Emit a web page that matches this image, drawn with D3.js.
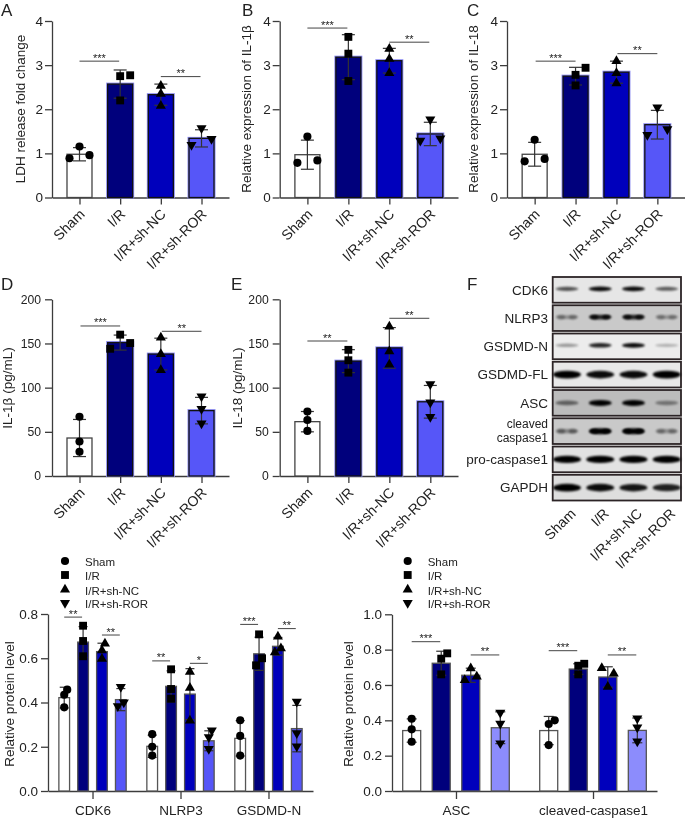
<!DOCTYPE html>
<html><head><meta charset="utf-8">
<script src="https://cdn.jsdelivr.net/npm/d3@7"></script>
<style>
html,body{margin:0;padding:0;background:#fff}
svg{display:block;filter:blur(0.3px)}
text{font-family:"Liberation Sans",Arial,sans-serif;fill:#222}
</style></head><body>
<script>
const groups = ["Sham","I/R","I/R+sh-NC","I/R+sh-ROR"];

// Panel A
const aMeans = [0.98,2.57,2.33,1.34];
const aErrs  = [0.15,0.32,0.24,0.195];
const aPoints = [[0.89,1.155,0.96],[2.2,2.75,2.77],[2.08,2.35,2.53],[1.19,1.57,1.33]];
const aSlots  = [[-1,0,1],[0,0,1],[0,0,0],[-1,0,1]];
const aSig = [[0,1,3.09,"***"],[2,3,2.74,"**"]];
// Panel B
const bMeans = [0.97,3.18,3.10,1.44];
const bErrs  = [0.33,0.51,0.28,0.265];
const bPoints = [[0.785,1.38,0.84],[2.64,3.26,3.64],[2.82,3.14,3.37],[1.29,1.77,1.34]];
const bSlots  = [[-1,0,1],[0,0,0],[0,0,0],[-1,0,1]];
const bSig = [[0,1,3.84,"***"],[2,3,3.52,"**"]];
// Panel C
const cMeans = [0.98,2.75,2.84,1.65];
const cErrs  = [0.27,0.2,0.25,0.325];
const cPoints = [[0.82,1.31,0.875],[2.54,2.78,2.94],[2.59,2.82,3.09],[1.42,2.04,1.55]];
const cSlots  = [[-1,0,1],[0,0,1],[0,0,0],[-1,0,1]];
const cSig = [[0,1,3.09,"***"],[2,3,3.26,"**"]];
// Panel D
const dMeans = [43,151,138,74];
const dErrs  = [21,8.5,18,15];
const dPoints = [[27.5,39,67],[144,160,150.5],[120,138,156.6],[59.6,76,90]];
const dSlots  = [[0,0,0],[-1,0,1],[0,0,0],[0,0,0]];
const dSig = [[0,1,169.8,"***"],[2,3,163.8,"**"]];
// Panel E
const eMeans = [61.5,130,145,84];
const eErrs  = [11.5,13,23,18.5];
const ePoints = [[51,63.4,73],[117,131,142.8],[126,141,169],[67,83.4,104]];
const eSlots  = [[0,0,0],[0,0,0],[0,0,0],[0,0,0]];
const eSig = [[0,1,152.8,"**"],[2,3,178.5,"**"]];

// Panel F (western blot)
const blotRows = ["CDK6","NLRP3","GSDMD-N","GSDMD-FL","ASC","cleaved caspase1","pro-caspase1","GAPDH"];
const blotShade = ["#e6e6e6","#c9c9c9","#ececec","#e8e8e8","#bcbcbc","#c9c9c9","#e2e2e2","#dedede"];
const blotIntensity = [[.65,.95,.95,.6],[.3,.8,.8,.28],[.35,.85,.95,.25],[1,.95,.95,1],[.5,1,1,.4],[.35,1,1,.3],[1,1,1,1],[1,.95,.9,.85]];
const blotThickness = [4,4.5,4,6.5,5,5,6,6.5];
const blotDoublet = [0,1,0,0,0,1,0,0];

// Panel G
const gCats = ["CDK6","NLRP3","GSDMD-N"];
const gMeans = [[.422,.673,.63,.413],[.202,.473,.438,.227],[.238,.62,.654,.282]];
const gErrs  = [[.047,.07,.038,.05],[.05,.07,.115,.045],[.08,.075,.04,.105]];
const gPoints = [
 [[.378,.435,.458],[.609,.678,.747],[.597,.636,.666],[.383,.47,.40]],
 [[.16,.2,.257],[.417,.461,.55],[.318,.466,.539],[.19,.243,.274]],
 [[.16,.249,.32],[.568,.708,.6],[.627,.698,.645],[.202,.261,.404]]];
const gSlots = [
 [[0,0,1],[0,0,0],[0,0,1],[-1,0,1]],
 [[0,0,0],[0,0,0],[0,0,0],[0,0,1]],
 [[0,0,0],[-1,0,1],[-1,0,1],[0,0,0]]];
const gSig = [[0,0,1,.786,"**"],[0,2,3,.705,"**"],[1,0,1,.588,"**"],[1,2,3,.577,"*"],[2,0,1,.753,"***"],[2,2,3,.734,"**"]];

// Panel H
const hCats = ["ASC","cleaved-caspase1"];
const hMeans = [[.342,.723,.655,.358],[.342,.69,.645,.343]];
const hErrs  = [[.066,.068,.04,.09],[.08,.03,.058,.07]];
const hPoints = [
 [[.279,.349,.409],[.66,.749,.779],[.628,.694,.647],[.27,.381,.443]],
 [[.26,.379,.4],[.66,.709,.72],[.696,.589,.664],[.281,.36,.411]]];
const hSlots = [
 [[0,0,0],[0,0,1],[-1,0,1],[0,0,0]],
 [[0,0,1],[0,0,1],[-1,0,1],[0,0,0]]];
const hSig = [[0,0,1,.845,"***"],[0,2,3,.77,"**"],[1,0,1,.794,"***"],[1,2,3,.77,"**"]];

const yTicks4 = [0,1,2,3,4], yTicks200 = [0,50,100,150,200];
const yTicks08 = [0,.2,.4,.6,.8], yTicks10 = [0,.2,.4,.6,.8,1];

const fills  = ["#ffffff","#00007c","#0000bc","#5656f8"];
const fillsH = ["#ffffff","#00007c","#0000bc","#8c8cfc"];
const symbols = [
  {t:d3.symbolCircle,s:52,r:0},{t:d3.symbolSquare,s:62,r:0},
  {t:d3.symbolTriangle,s:44,r:0},{t:d3.symbolTriangle,s:44,r:180}];
const AXIS = "#3c3c3c";

const svg = d3.select("body").append("svg").attr("width",685).attr("height",818);
const defs = svg.append("defs");
defs.append("filter").attr("id","bandBlur").attr("x","-30%").attr("y","-150%").attr("width","160%").attr("height","400%")
  .append("feGaussianBlur").attr("stdDeviation",1.25);

function marker(g,i,x,y){
  g.append("path").attr("d",d3.symbol().type(symbols[i].t).size(symbols[i].s)())
   .attr("transform",`translate(${x},${y}) rotate(${symbols[i].r})`).attr("fill","#000");
}
function yAxis(g,y,ticks,x,fmt,size,pad){
  const a = g.append("g").attr("transform",`translate(${x},0)`)
    .call(d3.axisLeft(y).tickValues(ticks).tickSize(7).tickPadding(pad).tickFormat(fmt).tickSizeOuter(0));
  a.selectAll("path,line").attr("stroke",AXIS).attr("stroke-width",1.3);
  a.selectAll("text").attr("font-size",size).attr("fill","#222");
}
function yLabel(g,t,x,yc){
  g.append("text").attr("transform",`translate(${x},${yc}) rotate(-90)`).attr("text-anchor","middle")
   .attr("dy",".35em").attr("font-size",13.5).text(t);
}
function letter(t,x,y){ svg.append("text").attr("x",x).attr("y",y).attr("font-size",17).text(t); }
function sigMark(g,x0,x1,yy,s){
  g.append("line").attr("x1",x0).attr("x2",x1).attr("y1",yy).attr("y2",yy).attr("stroke","#444").attr("stroke-width",1);
  g.append("text").attr("x",(x0+x1)/2).attr("y",yy+0.5).attr("text-anchor","middle").attr("font-size",11).text(s);
}
function bar(g,x,w,y,y0,v,fill,stroke,halo){
  if(halo && fill!=="#ffffff") g.append("rect").attr("x",x-w/2-.5).attr("y",y(v)-.5).attr("width",w+1).attr("height",y0-y(v)+.5)
     .attr("fill","none").attr("stroke","#8a8af0").attr("stroke-width",2);
  g.append("rect").attr("x",x-w/2).attr("y",y(v)).attr("width",w).attr("height",y0-y(v))
     .attr("fill",fill).attr("stroke",stroke).attr("stroke-width",1.3);
}
function errBar(g,x,y,v,e,cap){
  g.append("line").attr("x1",x).attr("x2",x).attr("y1",y(v-e)).attr("y2",y(v+e)).attr("stroke","#333").attr("stroke-width",1.2);
  [v-e,v+e].forEach(u=>g.append("line").attr("x1",x-cap).attr("x2",x+cap).attr("y1",y(u)).attr("y2",y(u)).attr("stroke","#333").attr("stroke-width",1.2));
}

function singlePanel(cfg){
  const g = svg.append("g");
  const y = d3.scaleLinear().domain([0,cfg.max]).range([cfg.y0,cfg.yTop]);
  const x = d3.scalePoint().domain(groups).range([cfg.xL,cfg.xR]).padding(.676);
  yAxis(g,y,cfg.ticks,cfg.xL,d3.format("d"),cfg.tickFont,cfg.tickPad);
  const xa = g.append("g").attr("transform",`translate(0,${cfg.y0})`)
    .call(d3.axisBottom(x).tickSize(7).tickSizeOuter(0));
  xa.selectAll("path,line").attr("stroke",AXIS).attr("stroke-width",1.3);
  xa.selectAll("text").attr("font-size",14.2).attr("fill","#222").attr("text-anchor","end")
    .attr("x",0).attr("y",0).attr("dy",".35em").attr("transform","translate(2,14) rotate(-45)");
  groups.forEach((c,i)=>{
    const cx = x(c);
    bar(g,cx,25,y,cfg.y0,cfg.means[i],fills[i],i===0?"#444":"#111",true);
    errBar(g,cx,y,cfg.means[i],cfg.errs[i],6.5);
    cfg.points[i].forEach((p,j)=>marker(g,i,cx+cfg.slots[i][j]*10,y(p)));
  });
  cfg.sig.forEach(s=>sigMark(g,x(groups[s[0]])+cfg.sigDx,x(groups[s[1]])+cfg.sigDx-1,y(s[2]),s[3]));
  yLabel(g,cfg.label,cfg.lx,cfg.ly);
}
singlePanel({max:4,y0:197.5,yTop:21,xL:52,xR:229,ticks:yTicks4,tickFont:13.5,tickPad:2,means:aMeans,errs:aErrs,points:aPoints,slots:aSlots,sig:aSig,sigDx:0,label:"LDH release fold change",lx:20,ly:109});
singlePanel({max:4,y0:197.5,yTop:21,xL:279.7,xR:458,ticks:yTicks4,tickFont:13.5,tickPad:2,means:bMeans,errs:bErrs,points:bPoints,slots:bSlots,sig:bSig,sigDx:0,label:"Relative expression of IL-1β",lx:246.5,ly:109});
singlePanel({max:4,y0:197.5,yTop:21,xL:507,xR:685,ticks:yTicks4,tickFont:13.5,tickPad:2,means:cMeans,errs:cErrs,points:cPoints,slots:cSlots,sig:cSig,sigDx:1,label:"Relative expression of IL-18",lx:473,ly:109});
singlePanel({max:200,y0:476,yTop:299.3,xL:52,xR:229,ticks:yTicks200,tickFont:12.2,tickPad:4,means:dMeans,errs:dErrs,points:dPoints,slots:dSlots,sig:dSig,sigDx:1,label:"IL-1β (pg/mL)",lx:7.5,ly:388});
singlePanel({max:200,y0:476,yTop:299.3,xL:279.7,xR:458,ticks:yTicks200,tickFont:12.2,tickPad:4,means:eMeans,errs:eErrs,points:ePoints,slots:eSlots,sig:eSig,sigDx:0,label:"IL-18 (pg/mL)",lx:237,ly:388});

function groupedPanel(cfg){
  const g = svg.append("g");
  const y = d3.scaleLinear().domain([0,cfg.max]).range([cfg.y0,cfg.yTop]);
  const x = d3.scalePoint().domain(cfg.cats).range([cfg.xL,cfg.xR]).padding(cfg.pad);
  const inner = d3.scalePoint().domain(groups).range([-cfg.spread,cfg.spread]);
  yAxis(g,y,cfg.ticks,cfg.xL,d3.format(".1f"),13.5,3);
  const xa = g.append("g").attr("transform",`translate(0,${cfg.y0})`)
    .call(d3.axisBottom(x).tickSize(8).tickPadding(6.5).tickSizeOuter(0));
  xa.selectAll("path,line").attr("stroke",AXIS).attr("stroke-width",1.3);
  xa.selectAll("text").attr("font-size",13.5).attr("fill","#222");
  cfg.cats.forEach((c,k)=>{
    groups.forEach((gr,i)=>{
      const cx = x(c)+inner(gr);
      bar(g,cx,cfg.w,y,cfg.y0,cfg.means[k][i],cfg.fills[i],"#555",false);
      errBar(g,cx,y,cfg.means[k][i],cfg.errs[k][i],cfg.cap);
      cfg.points[k][i].forEach((p,j)=>marker(g,i,cx+cfg.slots[k][i][j]*cfg.slot,y(p)));
    });
  });
  cfg.sig.forEach(s=>{
    const c = cfg.cats[s[0]];
    sigMark(g,x(c)+inner(groups[s[1]]),x(c)+inner(groups[s[2]])-1,y(s[3]),s[4]);
  });
  yLabel(g,"Relative protein level",cfg.lx,704);
  groups.forEach((gr,i)=>{
    const ly = [561,575,589.5,603][i];
    marker(g,i,cfg.legX,ly);
    g.append("text").attr("x",cfg.legX+20).attr("y",ly+1).attr("dy",".35em").attr("font-size",11.5).text(gr);
  });
}
groupedPanel({max:.8,y0:791,yTop:614,xL:48,xR:313,pad:.506,spread:28.3,w:10.7,cap:4.5,slot:3,cats:gCats,ticks:yTicks08,means:gMeans,errs:gErrs,points:gPoints,slots:gSlots,sig:gSig,fills:fills,lx:9,legX:65});
groupedPanel({max:1,y0:791,yTop:614.3,xL:392,xR:657,pad:.467,spread:44.3,w:18,cap:5,slot:6,cats:hCats,ticks:yTicks10,means:hMeans,errs:hErrs,points:hPoints,slots:hSlots,sig:hSig,fills:fillsH,lx:348,legX:407.7});

// Panel F
(function(){
  const g = svg.append("g");
  const rowY = d3.scaleBand().domain(blotRows).range([277,500.5]).paddingInner(.09).paddingOuter(0);
  const laneX = d3.scalePoint().domain(groups).range([552.7,681]).padding(.43);
  blotRows.forEach((r,k)=>{
    const top = rowY(r), h = rowY.bandwidth();
    g.append("rect").attr("x",552.7).attr("y",top).attr("width",128.3).attr("height",h)
      .attr("fill",blotShade[k]).attr("stroke","#2c2426").attr("stroke-width",1.8);
    const cy = top+h*.5-(blotThickness[k]<5?1:0);
    groups.forEach((gr,i)=>{
      const v = blotIntensity[k][i], cx = laneX(gr);
      const w = 11.5 + (blotThickness[k]>5?2.5:0);
      g.append("ellipse").attr("cx",cx).attr("cy",cy).attr("rx",w).attr("ry",blotThickness[k]/2*(.7+.5*v))
        .attr("fill","#000").attr("opacity",v).attr("filter","url(#bandBlur)");
      if(blotDoublet[k]) [-6,6].forEach(d=>
        g.append("ellipse").attr("cx",cx+d).attr("cy",cy).attr("rx",4).attr("ry",2.4)
         .attr("fill","#000").attr("opacity",v).attr("filter","url(#bandBlur)"));
    });
    const parts = r==="cleaved caspase1" ? ["cleaved","caspase1"] : [r];
    const t = g.append("text").attr("text-anchor","end").attr("font-size",parts.length>1?12:13.5);
    parts.forEach((p,j)=>{
      t.append("tspan").attr("x",548).attr("y",top+h/2+(parts.length>1?(j-.5)*13.8:0)).attr("dy",".35em").text(p);
    });
  });
  groups.forEach(gr=>{
    g.append("text").attr("text-anchor","end").attr("dy",".35em").attr("font-size",14.2)
     .attr("transform",`translate(${laneX(gr)+6},511) rotate(-45)`).text(gr);
  });
})();

letter("A",1,15.5); letter("B",242,15.5); letter("C",467,15.5);
letter("D",1,290); letter("E",231,290); letter("F",467,290);
</script>
</body></html>
